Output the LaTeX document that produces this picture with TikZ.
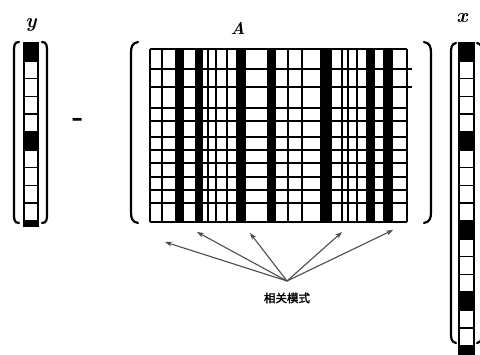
\documentclass[tikz,border=0pt]{standalone}
\usepackage{fontspec}
\newfontfamily\cjk{Noto Sans CJK SC}[FakeBold=2]
\usetikzlibrary{arrows.meta}
\begin{document}
\begin{tikzpicture}[x=1pt,y=-1pt,
  gridline/.style={line width=2pt,black},
  cellbox/.style={draw=black,line width=1.6pt,fill=white},
  cellblack/.style={draw=black,line width=1.6pt,fill=black},
  paren/.style={line width=2.2pt,black,line cap=round},
  veclabel/.style={font=\fontsize{20}{20}\selectfont\bfseries\itshape,inner sep=0pt},
  pointer/.style={draw=black!70,line width=1.1pt,-{Stealth[length=7pt,width=5pt]}}
]
\useasboundingbox (0,0) rectangle (480,354);
\clip (0,0) rectangle (480,354);

% ---------- y vector ----------
\foreach \i in {0,...,9}{
  \pgfmathsetmacro{\ya}{43+17.8*\i}
  \pgfmathsetmacro{\yb}{43+17.8*(\i+1)}
  \ifnum\i=0 \draw[cellblack] (24,\ya) rectangle (38,\yb);
  \else\ifnum\i=5 \draw[cellblack] (24,\ya) rectangle (38,\yb);
  \else \draw[cellbox] (24,\ya) rectangle (38,\yb);
  \fi\fi
}
\fill[black] (23.2,221) rectangle (38.8,227);
\draw[paren] (19,42) .. controls (14,42) and (14,46) .. (14,52) -- (14,213) .. controls (14,219) and (14,223) .. (19,223);
\draw[paren] (42,42) .. controls (47,42) and (47,46) .. (47,52) -- (47,213) .. controls (47,219) and (47,223) .. (42,223);
\node[veclabel] (ylab) at (31,25) {y};

% ---------- minus ----------
\node[font=\fontsize{30}{30}\selectfont\bfseries,inner sep=0pt] (minus) at (78,122) {-};

% ---------- matrix A ----------
\foreach \a/\b in {175/184,195/203,236/246,267/276,320/332,366/375,383/393}{
  \fill[black] (\a,49) rectangle (\b,222);
}
\foreach \xx in {150,162,208,216,227,288,302,342,348,357,407}{
  \draw[gridline] (\xx,49) -- (\xx,222);
}
\foreach \yy in {49,69,87,108,121,137,150,163,177,190,203,222}{
  \draw[gridline] (150,\yy) -- (407,\yy);
}
\draw[gridline] (407,69) -- (412,69);
\draw[gridline] (407,87) -- (412,87);
\draw[paren] (138,42) .. controls (132,43) and (131,47) .. (131,53) -- (131,212) .. controls (131,218) and (132,222) .. (138,223);
\draw[paren] (424,42) .. controls (430,43) and (431,47) .. (431,53) -- (431,212) .. controls (431,218) and (430,222) .. (424,223);
\node[veclabel,font=\fontsize{17}{17}\selectfont\bfseries\itshape] (Alab) at (238,28) {A};

% ---------- x vector ----------
\foreach \i in {0,...,17}{
  \pgfmathsetmacro{\ya}{43+17.8*\i}
  \pgfmathsetmacro{\yb}{43+17.8*(\i+1)}
  \pgfmathtruncatemacro{\isblack}{(\i==0)||(\i==5)||(\i==10)||(\i==14)||(\i==17)}
  \ifnum\isblack=1 \draw[cellblack] (459,\ya) rectangle (474,\yb);
  \else \draw[cellbox] (459,\ya) rectangle (474,\yb);
  \fi
}
\draw[paren] (456,43) .. controls (451,44) and (451,48) .. (451,54) -- (451,332) .. controls (451,338) and (451,342) .. (456,343);
\draw[paren] (477,43) .. controls (482,44) and (482,48) .. (482,54) -- (482,332) .. controls (482,338) and (482,342) .. (477,343);
\node[veclabel] (xlab) at (462,18) {x};

% ---------- pointers ----------
\coordinate (src) at (287,281);
\coordinate (p1) at (165,242);
\coordinate (p2) at (197,232);
\coordinate (p3) at (250,233);
\coordinate (p4) at (342,232);
\coordinate (p5) at (393,230);
\foreach \p in {p1,p2,p3,p4,p5}{
  \draw[pointer] (src) -- (\p);
}
\node[font=\cjk\fontsize{11.5}{11.5}\selectfont,inner sep=1pt] (lab) at (287,298) {相关模式};
\end{tikzpicture}
\end{document}
